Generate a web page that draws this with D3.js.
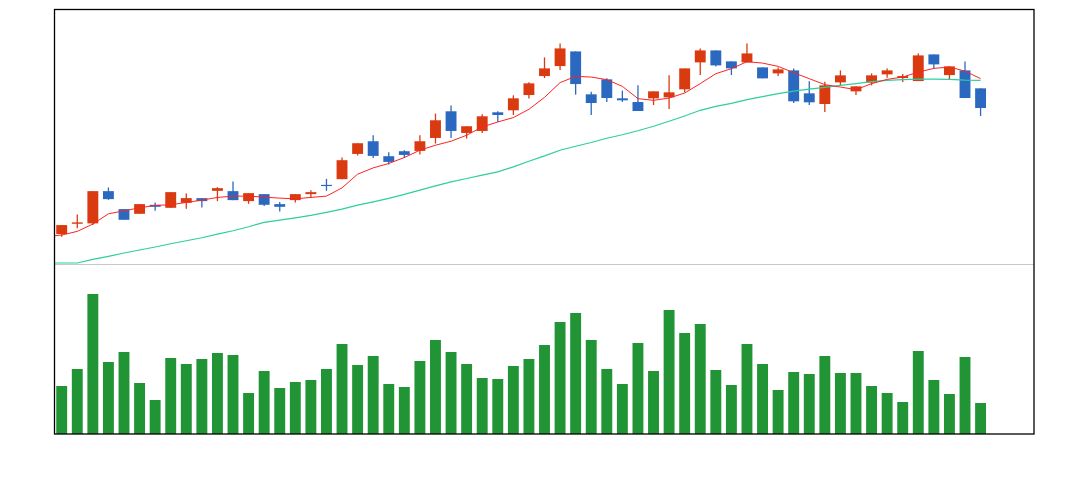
<!DOCTYPE html>
<html>
<head>
<meta charset="utf-8">
<script src="https://cdn.jsdelivr.net/npm/d3@7"></script>
<style>
  html, body { margin: 0; padding: 0; background: #fff; }
  svg { display: block; }
</style>
</head>
<body>
<svg id="chart" width="1083" height="480"></svg>
<script>
// ---- data (price units) ----
const opens  = [23.0,24.03,24.07,27.3,25.5,25.03,25.93,25.63,26.13,26.6,27.33,27.3,26.3,27.0,26.0,26.4,27.0,27.93,28.5,31.03,32.3,30.8,31.3,31.33,32.63,35.3,33.13,33.33,35.2,35.4,36.93,38.83,39.83,41.3,37.0,38.5,36.6,36.23,36.6,36.7,37.5,40.2,41.4,40.3,40.2,39.7,39.1,39.4,37.1,36.03,38.2,37.3,38.17,39.0,38.63,38.33,41.0,38.93,39.4,37.6];
const closes = [23.9,24.17,27.3,26.5,24.43,26.0,25.73,27.2,26.6,26.3,27.6,26.4,27.1,25.93,25.73,27.0,27.2,27.83,30.4,32.1,30.83,30.23,30.93,32.3,34.4,33.33,33.8,34.8,34.93,36.6,38.1,39.6,41.6,38.03,36.13,36.63,36.4,35.33,37.3,37.2,39.6,41.4,39.9,39.6,41.1,38.6,39.5,36.3,36.2,37.9,38.9,37.8,38.9,39.4,38.83,40.9,40.0,39.8,36.63,35.63];
const highs  = [23.9,24.97,27.3,27.67,25.5,26.0,26.17,27.2,27.07,26.6,27.7,28.27,27.1,27.0,26.2,27.0,27.4,28.53,30.67,32.1,32.9,31.2,31.4,32.9,35.07,35.87,33.8,35.0,35.3,36.9,38.2,40.7,42.1,41.3,37.27,38.6,37.37,37.9,37.3,38.9,39.6,41.6,41.4,40.3,42.1,39.7,39.7,39.6,38.3,38.27,39.4,37.8,39.1,39.6,39.03,41.1,41.0,39.8,40.3,37.6];
const lows   = [22.73,23.57,23.9,26.43,24.43,25.03,25.33,25.63,25.53,25.67,26.3,26.4,26.03,25.8,25.27,26.17,26.67,27.33,28.5,30.87,30.63,29.97,30.63,30.97,32.07,32.63,32.57,33.13,34.23,34.93,36.57,38.63,39.43,36.97,34.93,36.23,36.23,35.33,35.93,35.53,37.2,38.93,39.8,38.93,40.2,38.6,38.83,36.13,35.93,35.23,37.9,36.93,37.9,38.67,38.23,38.33,39.6,38.47,36.63,34.83];
const volumes = [4800,6500,14000,7200,8200,5100,3400,7600,7000,7500,8100,7900,4100,6300,4600,5200,5400,6500,9000,6900,7800,5000,4700,7300,9400,8200,7000,5600,5500,6800,7500,8900,11200,12100,9400,6500,5000,9100,6300,12400,10100,11000,6400,4900,9000,7000,4400,6200,6000,7800,6100,6100,4800,4100,3200,8300,5400,4000,7700,3100];
// moving averages; first value belongs to the day before the first candle
const maShort = [22.75,22.9,23.27,24.0,25.03,25.33,25.63,25.87,25.93,26.17,26.4,26.67,26.8,26.8,26.7,26.6,26.53,26.67,26.8,27.63,29.0,29.63,30.07,30.67,31.4,31.9,32.3,32.9,33.73,34.23,34.67,35.5,36.7,38.17,38.8,38.73,38.47,37.8,36.57,36.4,36.63,37.13,38.07,39.07,39.57,40.27,40.13,39.8,39.17,38.57,37.97,37.73,37.47,38.07,38.5,38.73,39.23,39.6,39.73,39.33,38.57];
const maLong  = [20.1,20.1,20.1,20.47,20.77,21.1,21.4,21.7,22.03,22.33,22.63,23.0,23.33,23.73,24.17,24.4,24.63,24.87,25.17,25.5,25.9,26.23,26.57,26.97,27.4,27.83,28.23,28.57,28.9,29.23,29.73,30.3,30.83,31.4,31.8,32.17,32.6,32.95,33.35,33.8,34.3,34.83,35.4,35.8,36.1,36.47,36.77,37.07,37.33,37.53,37.7,37.9,38.07,38.27,38.4,38.47,38.53,38.53,38.5,38.43,38.4];
const slotCount = 63;

(function () {
  // ---- layout ----
  const pLeft = 55, pRight = 1034, pTop = 9.5, pSplit = 264, pBottom = 434;
  const upColor = "#d93a10", downColor = "#2b69c1", volColor = "#219436";
  const maShortColor = "#ff2222", maLongColor = "#2ccf9e";

  const svg = d3.select("#chart");

  const x = d3.scaleBand().domain(d3.range(slotCount)).range([pLeft, pRight])
    .paddingInner(0.3).paddingOuter(0.08);
  const bw = x.bandwidth();
  const cx = i => x(0) + bw / 2 + i * x.step();

  const y = d3.scaleLinear().domain([20, 45.5]).range([pSplit, pTop]);
  const yv = d3.scaleLinear().domain([0, 17000]).range([pBottom, pSplit]);

  svg.append("defs").append("clipPath").attr("id", "clipTop")
    .append("rect").attr("x", pLeft).attr("y", pTop).attr("width", pRight - pLeft).attr("height", pSplit - pTop);

  // separator
  svg.append("line").attr("x1", pLeft).attr("x2", pRight).attr("y1", pSplit + 0.5).attr("y2", pSplit + 0.5)
    .attr("stroke", "#c8c8c8").attr("stroke-width", 1);

  const candles = d3.range(opens.length).map(i => ({
    i, o: opens[i], c: closes[i], h: highs[i], l: lows[i], up: closes[i] >= opens[i]
  }));

  const g = svg.append("g");
  g.selectAll("line.wick").data(candles).join("line").attr("class", "wick")
    .attr("x1", d => cx(d.i)).attr("x2", d => cx(d.i))
    .attr("y1", d => y(d.h)).attr("y2", d => y(d.l))
    .attr("stroke", d => d.up ? upColor : downColor).attr("stroke-width", 1.3);
  g.selectAll("rect.body").data(candles).join("rect").attr("class", "body")
    .attr("x", d => x(d.i)).attr("width", bw)
    .attr("y", d => y(Math.max(d.o, d.c)))
    .attr("height", d => Math.max(1.2, Math.abs(y(d.o) - y(d.c))))
    .attr("fill", d => d.up ? upColor : downColor);

  // MA lines
  const lineGen = d3.line().x((d, k) => cx(k - 1)).y(d => y(d));
  const lg = svg.append("g").attr("clip-path", "url(#clipTop)");
  lg.append("path").datum(maLong).attr("d", lineGen).attr("fill", "none")
    .attr("stroke", maLongColor).attr("stroke-width", 1.2);
  lg.append("path").datum(maShort).attr("d", lineGen).attr("fill", "none")
    .attr("stroke", maShortColor).attr("stroke-width", 1);

  // volume
  svg.append("g").selectAll("rect").data(volumes).join("rect")
    .attr("x", (d, i) => x(i)).attr("width", bw)
    .attr("y", d => yv(d)).attr("height", d => yv(0) - yv(d))
    .attr("fill", volColor);

  // frame
  svg.append("rect").attr("x", pLeft - 0.5).attr("y", pTop).attr("width", pRight - pLeft + 0.5)
    .attr("height", pBottom - pTop).attr("fill", "none").attr("stroke", "#000").attr("stroke-width", 1.3);
})();
</script>
</body>
</html>
